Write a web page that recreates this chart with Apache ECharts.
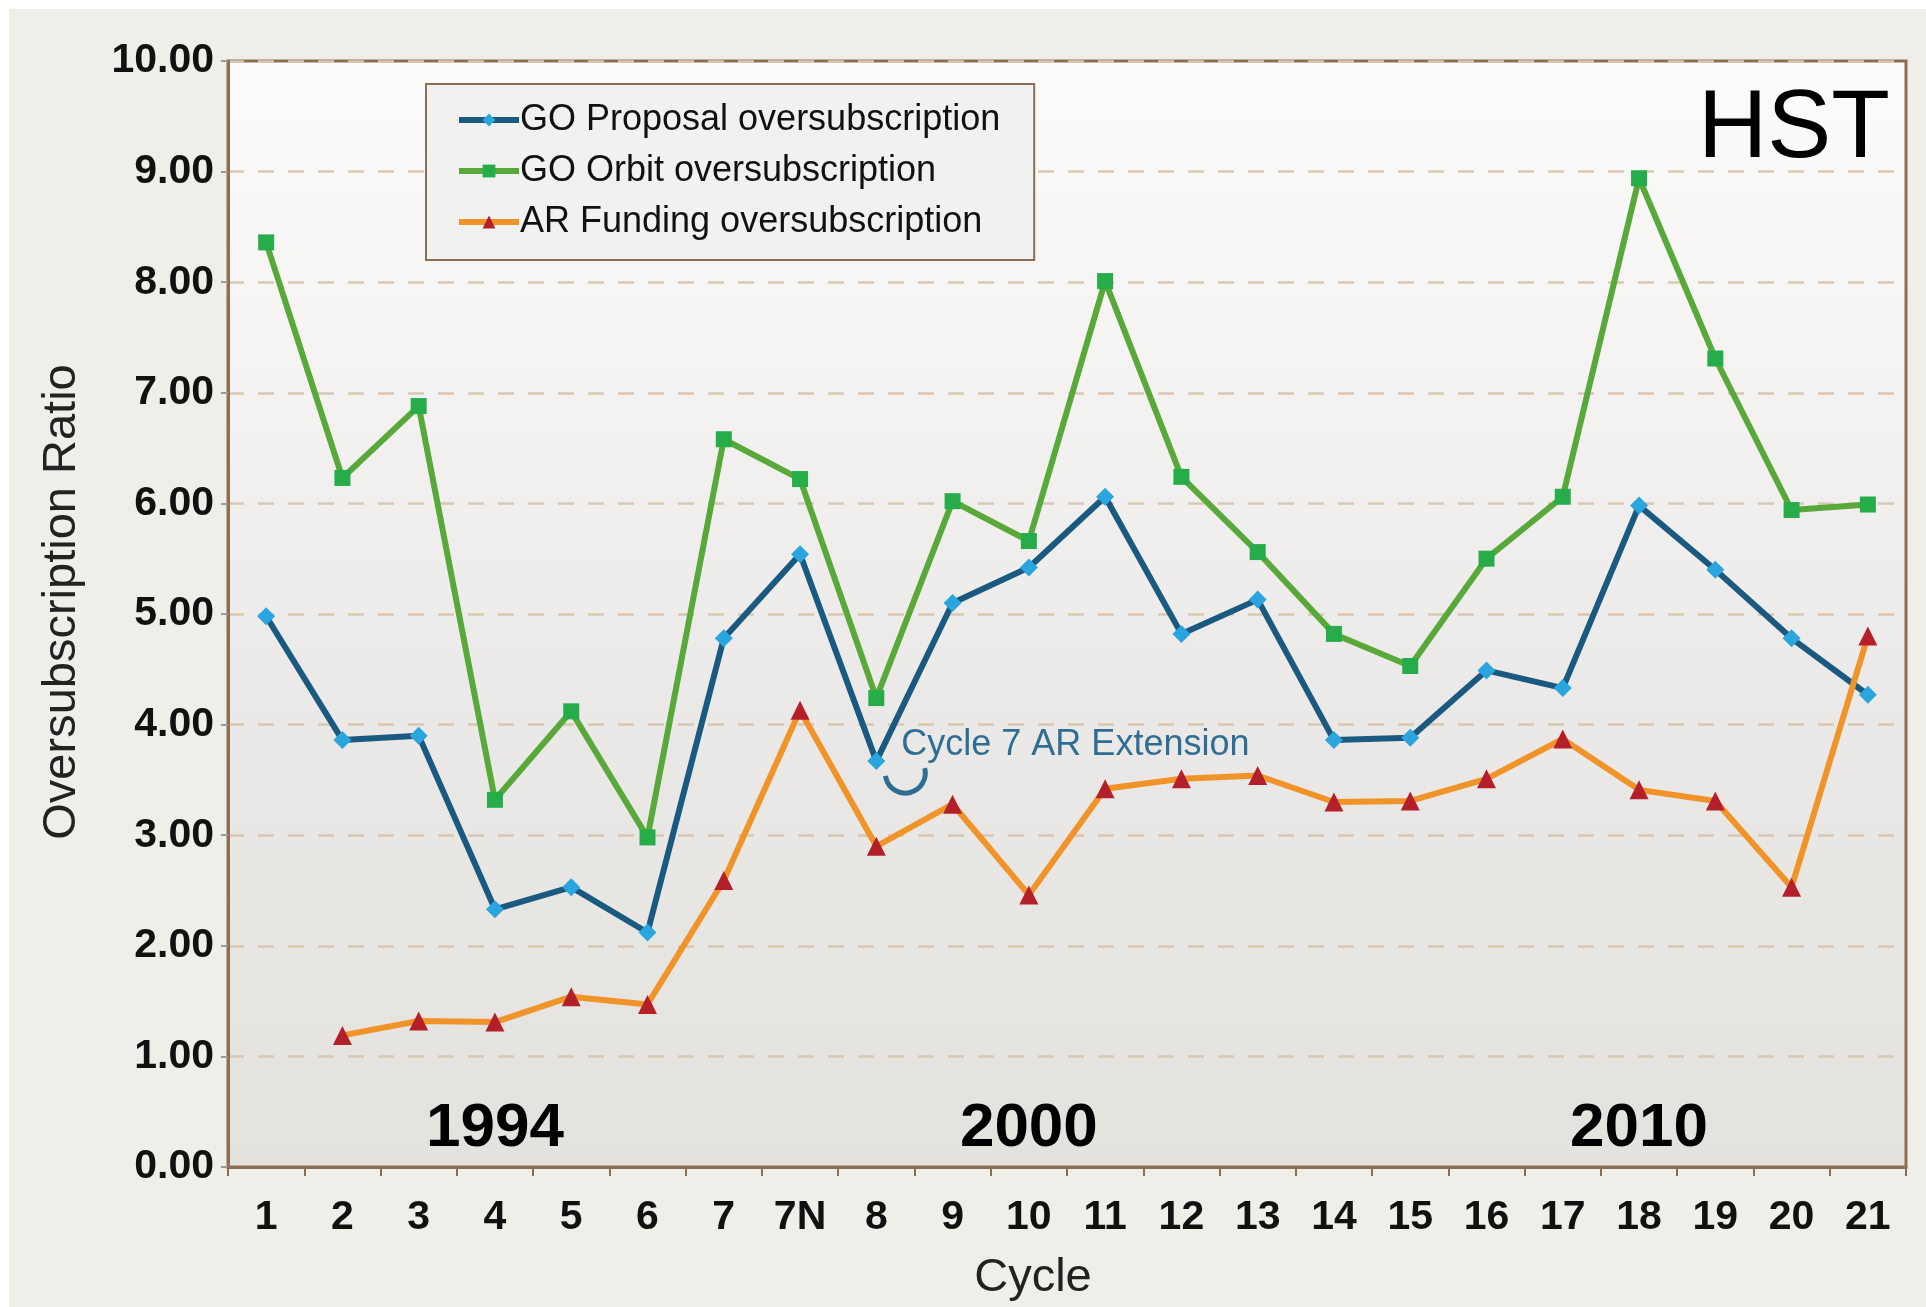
<!DOCTYPE html>
<html>
<head>
<meta charset="utf-8">
<title>HST oversubscription</title>
<script src="https://cdn.jsdelivr.net/npm/echarts@6/dist/echarts.min.js"></script>
<style>
  html, body { margin: 0; padding: 0; background: #ffffff; }
  #chart { position: absolute; left: 9px; top: 9px; width: 1917px; height: 1298px; }
</style>
</head>
<body>
<div id="chart"></div>
<script>
// values
const cycles = ['1', '2', '3', '4', '5', '6', '7', '7N', '8', '9', '10',
  '11', '12', '13', '14', '15', '16', '17', '18', '19', '20', '21'];
const proposalRatio = [4.98, 3.86, 3.90, 2.33, 2.53, 2.12, 4.78, 5.54, 3.67, 5.10, 5.42,
  6.06, 4.82, 5.13, 3.86, 3.88, 4.49, 4.33, 5.98, 5.40, 4.78, 4.27];
const orbitRatio = [8.36, 6.23, 6.88, 3.32, 4.12, 2.98, 6.58, 6.22, 4.24, 6.02, 5.66,
  8.01, 6.24, 5.56, 4.82, 4.53, 5.50, 6.06, 8.94, 7.31, 5.94, 5.99];
const arFundingRatio = [null, 1.19, 1.32, 1.31, 1.54, 1.47, 2.59, 4.13, 2.90, 3.28, 2.46,
  3.42, 3.51, 3.54, 3.30, 3.31, 3.51, 3.87, 3.41, 3.31, 2.53, 4.80];
const seriesNames = ['GO Proposal oversubscription', 'GO Orbit oversubscription', 'AR Funding oversubscription'];
const yearLabels = [['4', 0.34, '1994'], ['10', 0.34, '2000'], ['18', 0.34, '2010']];
const extensionNote = ['8', 3.67, 'Cycle 7 AR Extension'];

const brown = '#8d6e52';
const sans = '"Liberation Sans Narrow", "Liberation Sans", sans-serif';

const chart = echarts.init(document.getElementById('chart'));

const option = {
  animation: false,
  backgroundColor: '#efeee9',
  grid: {
    left: 219, right: 20, top: 52, bottom: 140,
    show: true,
    borderColor: brown,
    borderWidth: 3,
    backgroundColor: new echarts.graphic.LinearGradient(0, 0, 0, 1, [
      { offset: 0, color: '#fcfcfb' },
      { offset: 0.6, color: '#ebe9e7' },
      { offset: 1, color: '#e3e2dd' }
    ])
  },
  legend: {
    orient: 'vertical',
    left: 417, top: 75,
    padding: [15, 34, 17, 30],
    itemGap: 9,
    itemWidth: 60,
    itemHeight: 16,
    backgroundColor: '#f1f1ef',
    borderColor: brown,
    borderWidth: 2,
    lineStyle: { width: 6 },
    textStyle: { fontFamily: sans, fontSize: 36, color: '#111', lineHeight: 42, padding: [0, 0, 0, -4] },
    data: seriesNames
  },
  xAxis: {
    type: 'category',
    data: cycles,
    name: 'Cycle',
    nameLocation: 'middle',
    nameGap: 88,
    nameTextStyle: { fontFamily: sans, fontSize: 47, color: '#222', padding: [0, 68, 0, 0] },
    axisLine: { lineStyle: { color: brown, width: 3 } },
    axisTick: { show: true, length: 9, lineStyle: { color: brown, width: 2 } },
    axisLabel: { fontFamily: sans, fontWeight: 'bold', fontSize: 41, color: '#111', margin: 30 }
  },
  yAxis: {
    type: 'value',
    min: 0, max: 10, interval: 1,
    name: 'Oversubscription Ratio',
    nameLocation: 'middle',
    nameGap: 142,
    nameTextStyle: { fontFamily: sans, fontSize: 47, color: '#222', padding: [0, 0, 0, 24] },
    axisLine: { show: true, lineStyle: { color: brown, width: 3 } },
    axisTick: { show: true, length: 7, lineStyle: { color: '#9a9a9a', width: 2 } },
    axisLabel: {
      fontFamily: sans, fontWeight: 'bold', fontSize: 41, color: '#111', margin: 14,
      formatter: v => v.toFixed(2)
    },
    splitLine: { lineStyle: { color: '#d9c7b3', width: 2.5, type: [16, 14] } }
  },
  series: [
    {
      name: seriesNames[0], type: 'line', data: proposalRatio,
      symbol: 'diamond', symbolSize: 18,
      lineStyle: { color: '#1b5a80', width: 6 },
      itemStyle: { color: '#2aa5dd' },
      markPoint: {
        symbol: 'circle', symbolSize: 0,
        label: {
          show: true, position: 'right', offset: [20, -16],
          formatter: '{b}', fontFamily: '"Liberation Sans", sans-serif', fontSize: 36, color: '#2f6e94'
        },
        data: [{ name: extensionNote[2], coord: [extensionNote[0], extensionNote[1]] }]
      }
    },
    {
      name: seriesNames[1], type: 'line', data: orbitRatio,
      symbol: 'rect', symbolSize: 16,
      lineStyle: { color: '#58a83a', width: 6 },
      itemStyle: { color: '#26ad4a' },
      markPoint: {
        symbol: 'circle', symbolSize: 0,
        label: {
          show: true, position: 'inside', formatter: '{b}',
          fontFamily: '"Liberation Sans", sans-serif', fontWeight: 'bold', fontSize: 62, color: '#000'
        },
        data: yearLabels.map(d => ({ name: d[2], coord: [d[0], d[1]] }))
      }
    },
    {
      name: seriesNames[2], type: 'line', data: arFundingRatio,
      symbol: 'triangle', symbolSize: 19,
      lineStyle: { color: '#f0942a', width: 6 },
      itemStyle: { color: '#b3202a' }
    }
  ]
};

chart.setOption(option);

// little hook under the annotation, anchored to the cycle 8 point
const p = chart.convertToPixel({ gridIndex: 0 }, [extensionNote[0], extensionNote[1]]);
chart.setOption({
  graphic: [
    {
      type: 'arc',
      shape: { cx: p[0] + 29, cy: p[1] + 12, r: 20, startAngle: -0.25, endAngle: 3.0, clockwise: true },
      style: { stroke: '#2f6e94', lineWidth: 5, fill: null }
    },
    {
      type: 'text',
      right: 36, top: 74,
      style: { text: 'HST', fontFamily: '"Liberation Sans", sans-serif', fontSize: 96, fill: '#000' }
    }
  ]
});
</script>
</body>
</html>
